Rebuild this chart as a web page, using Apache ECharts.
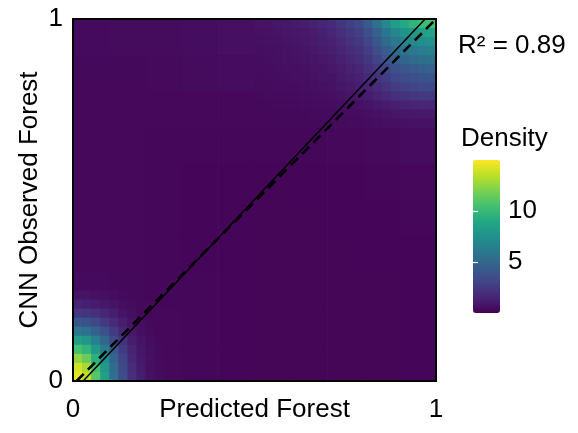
<!DOCTYPE html>
<html>
<head>
<meta charset="utf-8">
<script src="https://cdn.jsdelivr.net/npm/echarts@6/dist/echarts.min.js"></script>
<style>
  html, body { margin: 0; padding: 0; background: #fff; }
  #chart { width: 578px; height: 433px; }
</style>
</head>
<body>
<div id="chart"></div>
<script>
// density estimate (rows written top -> bottom)
// coarse background, cells of 0.1, covering the whole square
const baseStart = [0, 0];
const baseStep = 0.1;
const baseRows = [
  [0.40, 0.42, 0.45, 0.50, 0.62, 0.75, 0.90, 1.10, 1.40, 2.00],
  [0.35, 0.36, 0.38, 0.42, 0.48, 0.55, 0.70, 0.90, 1.40, 2.00],
  [0.32, 0.31, 0.30, 0.30, 0.31, 0.34, 0.37, 0.45, 0.60, 0.90],
  [0.30, 0.29, 0.27, 0.25, 0.24, 0.25, 0.27, 0.31, 0.38, 0.48],
  [0.30, 0.28, 0.25, 0.23, 0.21, 0.20, 0.21, 0.23, 0.26, 0.30],
  [0.30, 0.28, 0.25, 0.22, 0.21, 0.20, 0.20, 0.21, 0.23, 0.25],
  [0.32, 0.30, 0.26, 0.23, 0.21, 0.20, 0.20, 0.20, 0.21, 0.23],
  [0.40, 0.34, 0.27, 0.24, 0.22, 0.20, 0.20, 0.20, 0.20, 0.22],
  [1.00, 0.60, 0.30, 0.24, 0.22, 0.20, 0.20, 0.20, 0.20, 0.22],
  [3.00, 1.00, 0.32, 0.25, 0.22, 0.20, 0.20, 0.20, 0.20, 0.22]
];

// lower-left hot spot, cells of 0.025
const lowStart = [0, 0];
const lowStep = 0.025;
const lowRows = [
  [0.8, 0.75, 0.68, 0.58, 0.48, 0.4, 0.33, 0.29, 0.26, 0.25],
  [1.4, 1.3, 1.15, 0.95, 0.75, 0.55, 0.42, 0.33, 0.28, 0.26],
  [2.4, 2.3, 2.0, 1.6, 1.2, 0.8, 0.55, 0.4, 0.32, 0.28],
  [4.0, 3.7, 3.2, 2.5, 1.8, 1.2, 0.75, 0.5, 0.36, 0.3],
  [6.0, 5.6, 4.7, 3.7, 2.6, 1.6, 1.0, 0.62, 0.42, 0.32],
  [8.3, 7.8, 6.5, 5.0, 3.4, 2.1, 1.2, 0.75, 0.48, 0.35],
  [10.5, 9.8, 8.0, 6.2, 4.2, 2.6, 1.5, 0.9, 0.55, 0.38],
  [12.5, 11.5, 9.5, 7.2, 4.8, 3.0, 1.7, 1.0, 0.6, 0.4],
  [14.0, 13.0, 10.5, 8.0, 5.3, 3.3, 1.9, 1.1, 0.65, 0.42],
  [14.5, 13.5, 11.0, 8.5, 5.5, 3.5, 2.0, 1.2, 0.7, 0.45]
];

// upper-right hot spot, cells of 0.025
const highStart = [0.5, 0.7];
const highStep = 0.025;
const highRows = [
  [0.75, 0.82, 0.9, 1.0, 1.1, 1.2, 1.35, 1.55, 1.8, 2.3, 2.8, 3.3, 4.3, 5.6, 7.0, 8.3, 9.1, 9.7, 10.2, 10.5],
  [0.67, 0.73, 0.79, 0.88, 0.96, 1.04, 1.16, 1.33, 1.53, 1.95, 2.36, 2.77, 3.59, 4.66, 5.81, 6.88, 7.54, 8.04, 8.45, 8.69],
  [0.62, 0.67, 0.73, 0.8, 0.87, 0.94, 1.05, 1.19, 1.37, 1.73, 2.09, 2.45, 3.16, 4.09, 5.09, 6.02, 6.59, 7.02, 7.38, 7.59],
  [0.57, 0.62, 0.67, 0.73, 0.79, 0.85, 0.94, 1.06, 1.22, 1.52, 1.83, 2.13, 2.74, 3.53, 4.39, 5.18, 5.67, 6.03, 6.34, 6.52],
  [0.53, 0.57, 0.61, 0.66, 0.72, 0.77, 0.84, 0.95, 1.08, 1.34, 1.6, 1.86, 2.38, 3.05, 3.78, 4.45, 4.87, 5.18, 5.44, 5.59],
  [0.49, 0.52, 0.56, 0.6, 0.64, 0.68, 0.75, 0.83, 0.94, 1.15, 1.36, 1.58, 2.0, 2.55, 3.15, 3.7, 4.04, 4.3, 4.51, 4.64],
  [0.46, 0.49, 0.51, 0.55, 0.58, 0.62, 0.67, 0.75, 0.83, 1.01, 1.19, 1.37, 1.72, 2.19, 2.69, 3.15, 3.43, 3.65, 3.82, 3.93],
  [0.43, 0.45, 0.48, 0.51, 0.53, 0.56, 0.61, 0.67, 0.74, 0.89, 1.03, 1.18, 1.47, 1.85, 2.26, 2.64, 2.88, 3.05, 3.2, 3.29],
  [0.4, 0.41, 0.43, 0.45, 0.47, 0.49, 0.53, 0.57, 0.62, 0.73, 0.84, 0.95, 1.16, 1.44, 1.75, 2.03, 2.2, 2.33, 2.44, 2.5],
  [0.36, 0.36, 0.37, 0.39, 0.4, 0.41, 0.43, 0.46, 0.48, 0.55, 0.61, 0.68, 0.8, 0.96, 1.14, 1.3, 1.4, 1.48, 1.53, 1.57],
  [0.34, 0.34, 0.34, 0.35, 0.36, 0.36, 0.38, 0.39, 0.41, 0.45, 0.48, 0.52, 0.59, 0.69, 0.79, 0.88, 0.94, 0.99, 1.02, 1.04],
  [0.32, 0.32, 0.33, 0.33, 0.33, 0.34, 0.34, 0.35, 0.37, 0.38, 0.41, 0.43, 0.48, 0.54, 0.59, 0.65, 0.69, 0.71, 0.73, 0.74]
];

// reference lines (solid and dashed), ends in data units
const solidLine = [[0.028, 0], [0.97, 1]];
const dashedLine = [[0.01, 0], [1, 1]];

const axisTicks = [0, 1];
const densityTicks = [5, 10];
const densityRange = [0, 15];
const r2Text = 'R² = 0.89';

const viridis = ['#440154', '#482475', '#414487', '#355f8d', '#2a788e', '#21918c',
  '#22a884', '#44bf70', '#7ad151', '#bddf26', '#fde725'];

const font = "'Liberation Sans', Arial, sans-serif";

function addCells(out, start, step, rows) {
  const n = rows.length;
  rows.forEach((row, r) => {
    const yi = n - 1 - r;
    row.forEach((v, c) => {
      out.push([start[0] + c * step, start[1] + yi * step,
                start[0] + (c + 1) * step, start[1] + (yi + 1) * step, v]);
    });
  });
}

const cells = [];
addCells(cells, baseStart, baseStep, baseRows);
addCells(cells, lowStart, lowStep, lowRows);
addCells(cells, highStart, highStep, highRows);

const chart = echarts.init(document.getElementById('chart'));

const option = {
  animation: false,
  textStyle: { fontFamily: font },
  title: [
    { text: r2Text, left: 458, top: 33, padding: 0,
      textStyle: { fontSize: 26, fontWeight: 'normal', color: '#000', fontFamily: font } },
    { text: 'Density', left: 461, top: 126, padding: 0,
      textStyle: { fontSize: 26, fontWeight: 'normal', color: '#000', fontFamily: font } }
  ],
  grid: [
    { left: 73, top: 19, width: 363, height: 362, show: true, z: 10, outerBoundsMode: 'none',
      backgroundColor: 'transparent', borderColor: '#000', borderWidth: 2 },
    { left: 473, top: 160, width: 27, height: 153, outerBoundsMode: 'none' }
  ],
  xAxis: [
    {
      type: 'value', gridIndex: 0, min: 0, max: 1, interval: 1,
      name: 'Predicted Forest', nameLocation: 'middle', nameGap: 16, nameMoveOverlap: false,
      nameTextStyle: { fontSize: 26, color: '#000', verticalAlign: 'top' },
      axisLine: { show: false }, axisTick: { show: false }, splitLine: { show: false },
      axisLabel: { fontSize: 26, color: '#000', margin: 16, customValues: axisTicks }
    },
    { type: 'value', gridIndex: 1, min: 0, max: 1, show: false }
  ],
  yAxis: [
    {
      type: 'value', gridIndex: 0, min: 0, max: 1, interval: 1,
      name: 'CNN Observed Forest', nameLocation: 'middle', nameGap: 30, nameMoveOverlap: false,
      nameTextStyle: { fontSize: 26, color: '#000' },
      axisLine: { show: false }, axisTick: { show: false }, splitLine: { show: false },
      axisLabel: { fontSize: 26, color: '#000', margin: 10, customValues: axisTicks }
    },
    {
      type: 'value', gridIndex: 1, min: densityRange[0], max: densityRange[1],
      position: 'right', z: 10,
      axisLine: { show: false }, splitLine: { show: false },
      axisTick: { show: true, inside: true, length: 5, customValues: densityTicks,
                  lineStyle: { color: '#fff', width: 1.2 } },
      axisLabel: { fontSize: 26, color: '#000', margin: 8, customValues: densityTicks }
    },
    {
      type: 'value', gridIndex: 1, min: densityRange[0], max: densityRange[1],
      position: 'left', z: 10,
      axisLine: { show: false }, splitLine: { show: false },
      axisTick: { show: true, inside: true, length: 5, customValues: densityTicks,
                  lineStyle: { color: '#fff', width: 1.2 } },
      axisLabel: { show: false }
    }
  ],
  visualMap: {
    type: 'continuous',
    seriesIndex: 0,
    dimension: 4,
    min: densityRange[0],
    max: densityRange[1],
    calculable: false,
    realtime: false,
    hoverLink: false,
    text: null,
    showLabel: false,
    left: 473,
    top: 160,
    padding: 0,
    itemWidth: 27,
    itemHeight: 153,
    inRange: { color: viridis }
  },
  series: [
    {
      type: 'custom',
      xAxisIndex: 0,
      yAxisIndex: 0,
      encode: { x: [0, 2], y: [1, 3] },
      silent: true,
      renderItem: function (params, api) {
        const a = api.coord([api.value(0), api.value(3)]);
        const b = api.coord([api.value(2), api.value(1)]);
        return {
          type: 'rect',
          shape: { x: a[0], y: a[1], width: b[0] - a[0] + 0.7, height: b[1] - a[1] + 0.7 },
          style: { fill: api.visual('color') }
        };
      },
      data: cells
    },
    {
      type: 'line', xAxisIndex: 0, yAxisIndex: 0, showSymbol: false, silent: true, z: 5,
      lineStyle: { color: '#000', width: 1.5 },
      data: solidLine
    },
    {
      type: 'line', xAxisIndex: 0, yAxisIndex: 0, showSymbol: false, silent: true, z: 5,
      lineStyle: { color: '#000', width: 2.6, type: [10, 6] },
      data: dashedLine
    }
  ]
};

chart.setOption(option);
</script>
</body>
</html>
